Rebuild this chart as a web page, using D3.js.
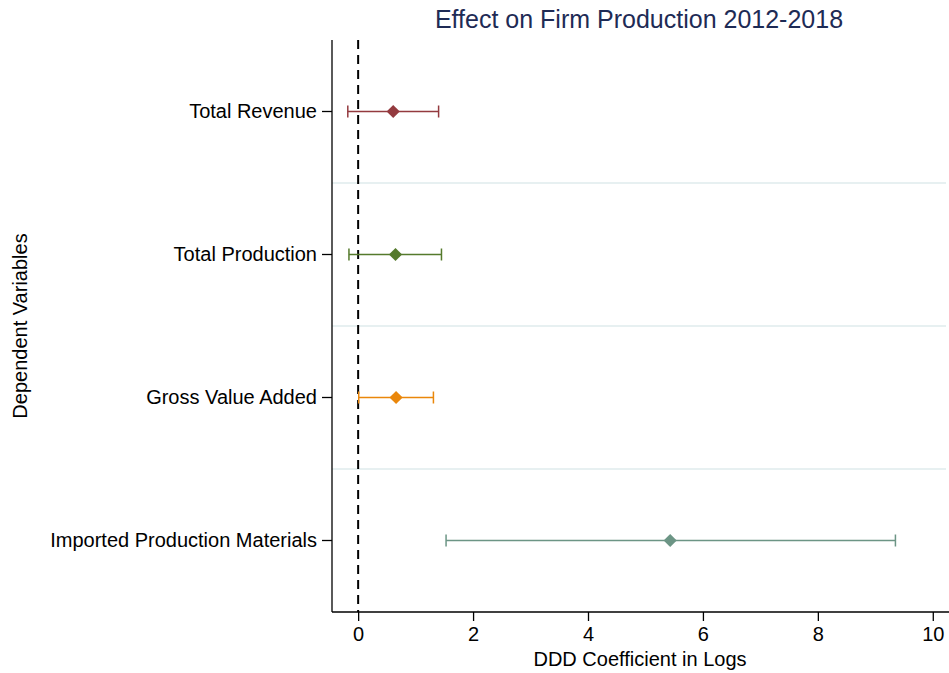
<!DOCTYPE html>
<html>
<head>
<meta charset="utf-8">
<script src="https://cdn.jsdelivr.net/npm/d3@7"></script>
<style>
  body { margin: 0; background: #fff; }
  svg { display: block; font-family: "Liberation Sans", Arial, sans-serif; }
</style>
</head>
<body>
<svg id="chart" width="949" height="673"></svg>
<script>
// Dependent variables, top to bottom
const categories = ["Total Revenue", "Total Production", "Gross Value Added", "Imported Production Materials"];
// DDD point estimates and confidence bounds
const estimates = [0.61, 0.65, 0.66, 5.43];
const lowerCI = [-0.18, -0.16, 0.01, 1.53];
const upperCI = [1.40, 1.45, 1.31, 9.35];
const markerColors = ["#943A3F", "#557A2C", "#EA870B", "#6C9585"];
const xTicks = [0, 2, 4, 6, 8, 10];

const svg = d3.select("#chart");
const margin = { left: 332, right: 3, top: 40, bottom: 61 };
const W = 949, H = 673;

const x = d3.scaleLinear().domain([-0.455, 10.23]).range([margin.left, W - margin.right]);
const y = d3.scaleBand().domain(categories).range([margin.top, H - margin.bottom]);

// separators between rows
const seps = categories.slice(1).map(c => y(c));
svg.append("g").selectAll("line").data(seps).join("line")
  .attr("x1", margin.left).attr("x2", W - 3)
  .attr("y1", d => d).attr("y2", d => d)
  .attr("stroke", "#E7F0F1").attr("stroke-width", 2);

// zero reference line
svg.append("line")
  .attr("x1", x(0)).attr("x2", x(0))
  .attr("y1", margin.top).attr("y2", H - margin.bottom)
  .attr("stroke", "#000").attr("stroke-width", 2)
  .attr("stroke-dasharray", "9,6");

// error bars
const rows = categories.map((c, i) => ({ c, est: estimates[i], lo: lowerCI[i], hi: upperCI[i], col: markerColors[i] }));
const g = svg.append("g").selectAll("g").data(rows).join("g")
  .attr("transform", d => `translate(0,${y(d.c) + y.bandwidth() / 2})`);

g.append("line")
  .attr("x1", d => x(d.lo)).attr("x2", d => x(d.hi))
  .attr("stroke", d => d.col).attr("stroke-width", 1.5);
g.append("line")
  .attr("x1", d => x(d.lo)).attr("x2", d => x(d.lo))
  .attr("y1", -6).attr("y2", 6)
  .attr("stroke", d => d.col).attr("stroke-width", 1.5);
g.append("line")
  .attr("x1", d => x(d.hi)).attr("x2", d => x(d.hi))
  .attr("y1", -6).attr("y2", 6)
  .attr("stroke", d => d.col).attr("stroke-width", 1.5);
g.append("path")
  .attr("d", d3.symbol(d3.symbolDiamond2, 110))
  .attr("transform", d => `translate(${x(d.est)},0)`)
  .attr("fill", d => d.col);

// axes
const xAxis = svg.append("g")
  .attr("transform", `translate(0,${H - margin.bottom})`)
  .call(d3.axisBottom(x).tickValues(xTicks).tickSize(9).tickPadding(6).tickFormat(d3.format("d")));
xAxis.select(".domain").attr("stroke-width", 1.3).attr("d", `M${margin.left},0H${W}`);
xAxis.selectAll(".tick line").attr("stroke-width", 1.3);
xAxis.selectAll("text").attr("font-size", 20).attr("fill", "#000");

const yAxis = svg.append("g")
  .attr("transform", `translate(${margin.left},0)`)
  .call(d3.axisLeft(y).tickSize(10).tickPadding(5));
yAxis.select(".domain").attr("stroke-width", 1.3).attr("d", `M0,${margin.top}V${H - margin.bottom}`);
yAxis.selectAll(".tick line").attr("stroke-width", 1.3);
yAxis.selectAll("text").attr("font-size", 20).attr("fill", "#000");

// titles
svg.append("text")
  .attr("x", 639).attr("y", 28)
  .attr("text-anchor", "middle").attr("font-size", 25).attr("fill", "#1E2B55")
  .text("Effect on Firm Production 2012-2018");
svg.append("text")
  .attr("x", 640).attr("y", 666)
  .attr("text-anchor", "middle").attr("font-size", 20).attr("fill", "#000")
  .text("DDD Coefficient in Logs");
svg.append("text")
  .attr("transform", `translate(27,${(margin.top + H - margin.bottom) / 2}) rotate(-90)`)
  .attr("text-anchor", "middle").attr("font-size", 20).attr("fill", "#000")
  .text("Dependent Variables");
</script>
</body>
</html>
